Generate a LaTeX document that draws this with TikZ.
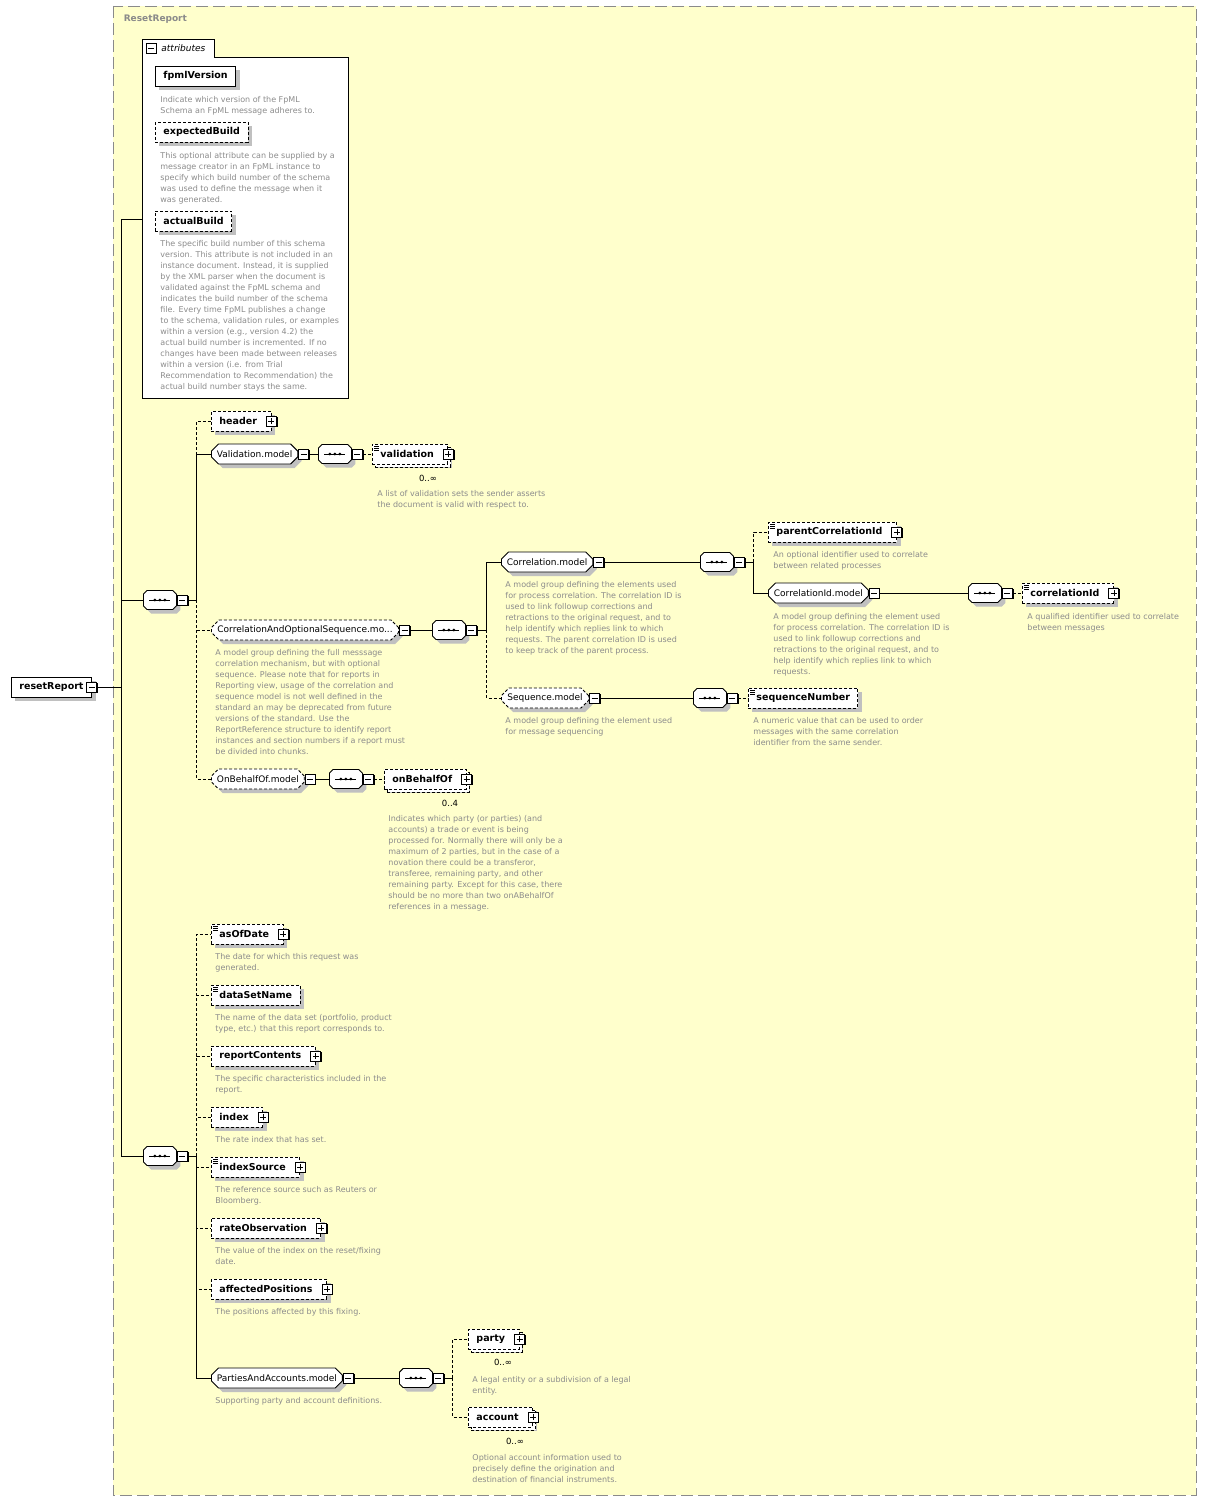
\documentclass[tikz,border=0pt]{standalone}
\usepackage{fontspec}
\setmainfont{DejaVu Sans}
\usepackage{xcolor}
\usetikzlibrary{shapes.misc, shadows, positioning}

\definecolor{bgyellow}{HTML}{FFFFCC}
\definecolor{descgrey}{HTML}{8C8C8C}
\definecolor{framegrey}{HTML}{8A8A8A}
\definecolor{shadowgrey}{HTML}{C0C0C0}

\begin{document}
\begin{tikzpicture}[x=1pt, y=-1pt, line width=0.9pt,
  shade/.style={drop shadow={shadow xshift=4pt, shadow yshift=-4pt, fill=shadowgrey, draw=none, opacity=1}},
  smallshade/.style={drop shadow={shadow xshift=1.2pt, shadow yshift=-1.2pt, fill=black, draw=none, opacity=1}},
  optline/.style={dash pattern=on 3pt off 2pt},
  elem/.style={draw, fill=white, shade, anchor=west, minimum height=20pt, inner xsep=8pt, inner ysep=0pt,
    font=\bfseries\fontsize{9.5}{11}\selectfont},
  optel/.style={optline},
  haschild/.style={execute at end node={\hspace{6pt}}},
  simple/.style={path picture={\foreach \dy in {2,4,6}
    \draw[solid, black, line width=0.7pt] ([shift={(2pt,-\dy pt)}]path picture bounding box.north west) -- ++(5pt,0pt);}},
  multi/.style={copy shadow={shadow xshift=3pt, shadow yshift=-3pt}},
  model/.style={chamfered rectangle, chamfered rectangle xsep=4pt, draw, fill=white, shade, anchor=west,
    minimum height=20pt, inner xsep=2pt, inner ysep=0pt, font=\fontsize{9}{11}\selectfont},
  compositor/.style={chamfered rectangle, chamfered rectangle xsep=5pt, draw, fill=white, shade, anchor=west,
    minimum height=19pt, inner xsep=1pt, inner ysep=0pt, execute at begin node={\hspace*{31pt}},
    path picture={
      \draw[solid, black] ([xshift=6pt]path picture bounding box.west) -- ([xshift=-6pt]path picture bounding box.east);
      \foreach \dx in {-5,0,5}
        \fill[black] ([xshift=\dx pt]path picture bounding box.center) circle (1.5pt);}},
  minussign/.style={path picture={
    \draw[solid, black, line width=0.9pt] ([xshift=2pt]path picture bounding box.west) -- ([xshift=-2pt]path picture bounding box.east);}},
  plussign/.style={path picture={
    \draw[solid, black, line width=0.9pt] ([xshift=2pt]path picture bounding box.west) -- ([xshift=-2pt]path picture bounding box.east);
    \draw[solid, black, line width=0.9pt] ([yshift=2pt]path picture bounding box.south) -- ([yshift=-2pt]path picture bounding box.north);}},
  pmbox/.style={draw, solid, fill=white, line width=1pt, minimum size=10pt, inner sep=0pt, smallshade},
  minus/.style={pmbox, minussign, anchor=west},
  plus/.style={pmbox, plussign},
  desc/.style={anchor=north west, align=left, inner sep=0pt, text=descgrey, font=\fontsize{8}{11}\selectfont},
  occurs/.style={inner sep=0pt, font=\fontsize{8.5}{10}\selectfont}
]
\useasboundingbox (0,0) rectangle (1207,1501);
% complex type frame
\draw[framegrey, fill=bgyellow, dash pattern=on 12pt off 5pt] (113,6) rectangle (1196,1495);
\node[anchor=west, text=framegrey, font=\bfseries\fontsize{9}{11}\selectfont] (rr-type) at (120,19) {ResetReport};

% attributes
\draw[fill=white] (142,39) -- (142,398) -- (348,398) -- (348,57) -- (214,57) -- (214,39) -- cycle;
\node[draw, fill=white, minimum size=10pt, inner sep=0pt, minussign] (attr-m) at (151,48) {};
\node[anchor=west, inner sep=0pt, font=\itshape\fontsize{9}{11}\selectfont] (attr) at (161,48) {attributes};
\coordinate (attr-in) at (142,219);

\node[elem] (fv) at (155,76) {fpmlVersion};
\node[desc] (fv-d) at (160,96) {Indicate which version of the FpML\\Schema an FpML message adheres to.};
\node[elem, optel] (eb) at (155,132) {expectedBuild};
\node[desc] (eb-d) at (160,152) {This optional attribute can be supplied by a\\message creator in an FpML instance to\\specify which build number of the schema\\was used to define the message when it\\was generated.};
\node[elem, optel] (ab) at (155,221) {actualBuild};
\node[desc] (ab-d) at (160,240) {The specific build number of this schema\\version. This attribute is not included in an\\instance document. Instead, it is supplied\\by the XML parser when the document is\\validated against the FpML schema and\\indicates the build number of the schema\\file. Every time FpML publishes a change\\to the schema, validation rules, or examples\\within a version (e.g., version 4.2) the\\actual build number is incremented. If no\\changes have been made between releases\\within a version (i.e. from Trial\\Recommendation to Recommendation) the\\actual build number stays the same.};

% root element
\node[elem] (rr) at (11,687) {resetReport};
\node[plus, minussign] (rr-m) at (rr.east) {};

% first sequence
\node[compositor] (s1) at (143,600) {};
\node[minus] (s1-m) at (s1.east) {};

\node[elem, optel, haschild] (hd) at (211,421) {header};
\node[plus] (hd-p) at (hd.east) {};

\node[model] (vm) at (211,454) {Validation.model};
\node[minus] (vm-m) at (vm.east) {};
\node[compositor] (vs) at (318,454) {};
\node[minus] (vs-m) at (vs.east) {};
\node[elem, optel, haschild, simple, multi] (va) at (372,454) {validation};
\node[plus] (va-p) at (va.east) {};
\node[occurs] (va-o) at (428,478) {0..∞};
\node[desc] (va-d) at (377,490) {A list of validation sets the sender asserts\\the document is valid with respect to.};

\node[model, optel] (cm) at (211,630) {CorrelationAndOptionalSequence.mo...};
\node[minus] (cm-m) at (cm.east) {};
\node[desc] (cm-d) at (215,649) {A model group defining the full messsage\\correlation mechanism, but with optional\\sequence. Please note that for reports in\\Reporting view, usage of the correlation and\\sequence model is not well defined in the\\standard an may be deprecated from future\\versions of the standard. Use the\\ReportReference structure to identify report\\instances and section numbers if a report must\\be divided into chunks.};
\node[compositor] (cs) at (432,630) {};
\node[minus] (cs-m) at (cs.east) {};

\node[model] (crm) at (501,562) {Correlation.model};
\node[minus] (crm-m) at (crm.east) {};
\node[desc] (crm-d) at (505,581) {A model group defining the elements used\\for process correlation. The correlation ID is\\used to link followup corrections and\\retractions to the original request, and to\\help identify which replies link to which\\requests. The parent correlation ID is used\\to keep track of the parent process.};
\node[compositor] (crs) at (700,562) {};
\node[minus] (crs-m) at (crs.east) {};

\node[elem, optel, haschild, simple] (pc) at (768,532) {parentCorrelationId};
\node[plus] (pc-p) at (pc.east) {};
\node[desc] (pc-d) at (773,551) {An optional identifier used to correlate\\between related processes};

\node[model] (cim) at (768,593) {CorrelationId.model};
\node[minus] (cim-m) at (cim.east) {};
\node[desc] (cim-d) at (773,613) {A model group defining the element used\\for process correlation. The correlation ID is\\used to link followup corrections and\\retractions to the original request, and to\\help identify which replies link to which\\requests.};
\node[compositor] (cis) at (968,593) {};
\node[minus] (cis-m) at (cis.east) {};
\node[elem, optel, haschild, simple] (ci) at (1022,593) {correlationId};
\node[plus] (ci-p) at (ci.east) {};
\node[desc] (ci-d) at (1027,613) {A qualified identifier used to correlate\\between messages};

\node[model, optel] (sqm) at (501,698) {Sequence.model};
\node[minus] (sqm-m) at (sqm.east) {};
\node[desc] (sqm-d) at (505,717) {A model group defining the element used\\for message sequencing};
\node[compositor] (sqs) at (693,698) {};
\node[minus] (sqs-m) at (sqs.east) {};
\node[elem, optel, simple] (sn) at (748,698) {sequenceNumber};
\node[desc] (sn-d) at (753,717) {A numeric value that can be used to order\\messages with the same correlation\\identifier from the same sender.};

\node[model, optel] (obm) at (211,779) {OnBehalfOf.model};
\node[minus] (obm-m) at (obm.east) {};
\node[compositor] (obs) at (329,779) {};
\node[minus] (obs-m) at (obs.east) {};
\node[elem, optel, haschild, multi] (ob) at (384,779) {onBehalfOf};
\node[plus] (ob-p) at (ob.east) {};
\node[occurs] (ob-o) at (450,803) {0..4};
\node[desc] (ob-d) at (388,815) {Indicates which party (or parties) (and\\accounts) a trade or event is being\\processed for. Normally there will only be a\\maximum of 2 parties, but in the case of a\\novation there could be a transferor,\\transferee, remaining party, and other\\remaining party. Except for this case, there\\should be no more than two onABehalfOf\\references in a message.};

% second sequence
\node[compositor] (s2) at (143,1156) {};
\node[minus] (s2-m) at (s2.east) {};

\node[elem, optel, haschild, simple] (aod) at (211,934) {asOfDate};
\node[plus] (aod-p) at (aod.east) {};
\node[desc] (aod-d) at (215,953) {The date for which this request was\\generated.};
\node[elem, optel, simple] (dsn) at (211,995) {dataSetName};
\node[desc] (dsn-d) at (215,1014) {The name of the data set (portfolio, product\\type, etc.) that this report corresponds to.};
\node[elem, optel, haschild] (rc) at (211,1056) {reportContents};
\node[plus] (rc-p) at (rc.east) {};
\node[desc] (rc-d) at (215,1075) {The specific characteristics included in the\\report.};
\node[elem, optel, haschild] (idx) at (211,1117) {index};
\node[plus] (idx-p) at (idx.east) {};
\node[desc] (idx-d) at (215,1136) {The rate index that has set.};
\node[elem, optel, haschild, simple] (ids) at (211,1167) {indexSource};
\node[plus] (ids-p) at (ids.east) {};
\node[desc] (ids-d) at (215,1186) {The reference source such as Reuters or\\Bloomberg.};
\node[elem, optel, haschild] (ro) at (211,1228) {rateObservation};
\node[plus] (ro-p) at (ro.east) {};
\node[desc] (ro-d) at (215,1247) {The value of the index on the reset/fixing\\date.};
\node[elem, optel, haschild] (ap) at (211,1289) {affectedPositions};
\node[plus] (ap-p) at (ap.east) {};
\node[desc] (ap-d) at (215,1308) {The positions affected by this fixing.};

\node[model] (pam) at (211,1378) {PartiesAndAccounts.model};
\node[minus] (pam-m) at (pam.east) {};
\node[desc] (pam-d) at (215,1397) {Supporting party and account definitions.};
\node[compositor] (pas) at (399,1378) {};
\node[minus] (pas-m) at (pas.east) {};
\node[elem, optel, haschild, multi] (pty) at (468,1339) {party};
\node[plus] (pty-p) at (pty.east) {};
\node[occurs] (pty-o) at (503,1362) {0..∞};
\node[desc] (pty-d) at (472,1376) {A legal entity or a subdivision of a legal\\entity.};
\node[elem, optel, haschild, multi] (acc) at (468,1417) {account};
\node[plus] (acc-p) at (acc.east) {};
\node[occurs] (acc-o) at (515,1441) {0..∞};
\node[desc] (acc-d) at (472,1454) {Optional account information used to\\precisely define the origination and\\destination of financial instruments.};

% connectors
\draw (rr-m.east) -- ++(24,0) coordinate (t0);
\draw (t0) |- (attr-in);
\draw (t0) |- (s1.west);
\draw (t0) |- (s2.west);

\draw (s1-m.east) -- ++(9,0) coordinate (t1);
\draw[optline] (t1) |- (hd.west);
\draw (t1) |- (vm.west);
\draw[optline] (t1) |- (cm.west);
\draw[optline] (t1) |- (obm.west);

\draw (vm-m.east) -- (vs.west);
\draw[optline] (vs-m.east) -- (va.west);

\draw (cm-m.east) -- (cs.west);
\draw (cs-m.east) -- ++(10,0) coordinate (t3);
\draw (t3) |- (crm.west);
\draw[optline] (t3) |- (sqm.west);
\draw (crm-m.east) -- (crs.west);
\draw (crs-m.east) -- ++(9,0) coordinate (t4);
\draw[optline] (t4) |- (pc.west);
\draw (t4) |- (cim.west);
\draw (cim-m.east) -- (cis.west);
\draw[optline] (cis-m.east) -- (ci.west);
\draw (sqm-m.east) -- (sqs.west);
\draw[optline] (sqs-m.east) -- (sn.west);

\draw (obm-m.east) -- (obs.west);
\draw[optline] (obs-m.east) -- (ob.west);

\draw (s2-m.east) -- ++(9,0) coordinate (t2);
\draw[optline] (t2) |- (aod.west);
\draw[optline] (t2) |- (dsn.west);
\draw[optline] (t2) |- (rc.west);
\draw[optline] (t2) |- (idx.west);
\draw[optline] (t2) |- (ids.west);
\draw[optline] (t2) |- (ro.west);
\draw[optline] (t2) |- (ap.west);
\draw (t2) |- (pam.west);

\draw (pam-m.east) -- (pas.west);
\draw (pas-m.east) -- ++(9,0) coordinate (t5);
\draw[optline] (t5) |- (pty.west);
\draw[optline] (t5) |- (acc.west);
\end{tikzpicture}
\end{document}
